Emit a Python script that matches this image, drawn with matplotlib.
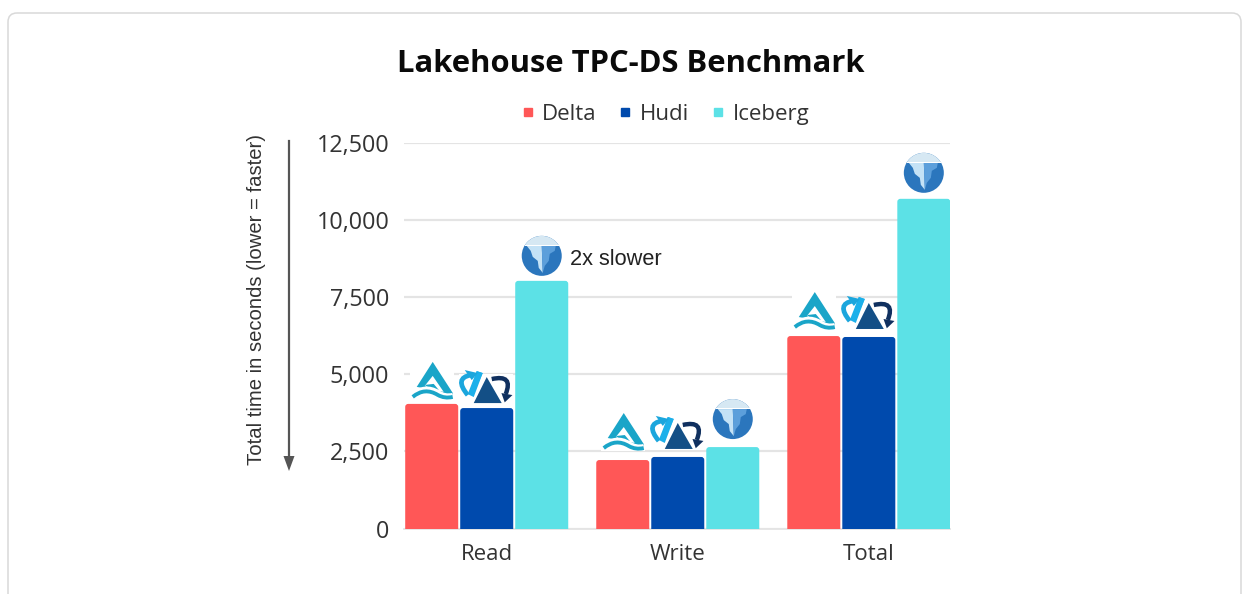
#!/usr/bin/env python3
"""Lakehouse TPC-DS benchmark bars with small table-format badges on top."""

from __future__ import annotations

import matplotlib

matplotlib.use("Agg")
import matplotlib.pyplot as plt
from matplotlib.lines import Line2D
from matplotlib.patches import Circle, FancyBboxPatch, Polygon, Rectangle, PathPatch
from matplotlib.path import Path
from matplotlib.transforms import Affine2D

W, H = 1247, 594

categories = ["Read", "Write", "Total"]
series_names = ["Delta", "Hudi", "Iceberg"]
delta_values = [4040, 2220, 6240]
hudi_values = [3905, 2320, 6210]
iceberg_values = [8030, 2640, 10690]
y_ticks = [0, 2500, 5000, 7500, 10000, 12500]
colors = ["#ff5757", "#004aad", "#5ce1e6"]

TICK_FONT = "Open Sans"
ARIAL_LIKE = "Liberation Sans"


def badge_transform(ax, x, y, dy=0):
    # badge shapes are drawn in pixels, y up, origin on the bar top centre
    px, py = ax.transData.transform((x, y))
    return Affine2D().translate(px, py + dy)


def curve(ax, pts, color, lw, tr, z=6):
    codes = [Path.MOVETO] + [Path.CURVE3] * (len(pts) - 1)
    ax.add_patch(PathPatch(Path(pts, codes), fc="none", ec=color, lw=lw, transform=tr,
                           zorder=z, clip_on=False, capstyle="butt"))


def poly(ax, pts, color, tr, z=6):
    p = Polygon(pts, closed=True, fc=color, ec="none", transform=tr, zorder=z, clip_on=False)
    ax.add_patch(p)
    return p


def draw_delta(ax, x, y, dy=0):
    tr = badge_transform(ax, x, y, dy)
    teal = "#1aa5c8"
    ax.add_patch(Rectangle((-22, 4), 44, 40, fc="white", ec="none", transform=tr, zorder=3, clip_on=False))
    poly(ax, [(1, 42), (21, 11), (20, 7), (8, 11), (-3, 15), (-15, 17)], teal, tr)
    poly(ax, [(1, 28), (12, 12), (2, 14), (-7, 18)], "white", tr, z=7)
    poly(ax, [(-7, 19), (2, 20), (7, 14), (0, 14)], teal, tr, z=8)
    # white gap, then the wave along the foot
    curve(ax, [(-19, 8), (-7, 19), (6, 11), (13, 6), (21, 8)], "white", 4.4, tr, z=8)
    curve(ax, [(-19, 7), (-7, 17), (6, 9), (13, 5), (21, 7)], teal, 2.8, tr, z=9)


def draw_hudi(ax, x, y, dy=0):
    tr = badge_transform(ax, x, y, dy)
    ax.add_patch(Rectangle((-28, 4), 54, 30, fc="white", ec="none", transform=tr, zorder=3, clip_on=False))
    poly(ax, [(-10, 37), (-4, 35), (-13, 11), (-19, 14)], "#1cb0ea", tr)
    poly(ax, [(-10, 37), (-4, 35), (-8, 26), (-14, 25)], "#1cb0ea", tr)
    poly(ax, [(0, 31), (-13, 5), (15, 5)], "#134f86", tr, z=7)
    curve(ax, [(-19, 13), (-33, 30), (-16, 33)], "#1ba6dd", 3.4, tr)
    poly(ax, [(-22, 38), (-9, 35), (-15, 28)], "#1ba6dd", tr)
    curve(ax, [(5, 29), (27, 34), (19, 14)], "#10305f", 3.2, tr)
    poly(ax, [(14.7, 15), (25.7, 13), (18, 5.7)], "#10305f", tr)


def draw_iceberg(ax, x, y, dy=0):
    tr = badge_transform(ax, x, y, dy)
    disc = Circle((0, 25), 20, fc="#2b76bd", ec="none", transform=tr, zorder=6, clip_on=False)
    ax.add_patch(disc)
    cap = Rectangle((-22, 36), 44, 12, fc="#d6e8f3", ec="none", transform=tr, zorder=7)
    ax.add_patch(cap)
    cap.set_clip_path(disc)
    poly(ax, [(-15, 35), (0, 35), (1, 8), (-3, 13), (-4, 20), (-9, 24), (-11, 30)], "#c4e2f6", tr, z=8)
    poly(ax, [(0, 35), (14, 35), (13, 30), (8, 27), (7, 20), (3, 15), (1, 8)], "#5c9fdb", tr, z=8)
    poly(ax, [(-17, 36), (17, 36), (17, 35), (-17, 35)], "white", tr, z=9)


def main() -> None:
    fig = plt.figure(figsize=(W / 100, H / 100), dpi=100, facecolor="white")
    canvas = Affine2D().scale(1, -1).translate(0, H)

    # card frame, runs off the bottom edge
    fig.add_artist(FancyBboxPatch((8, 13), 1233, 640, boxstyle="round,pad=0,rounding_size=9",
                                  fc="white", ec="#d9d9d9", lw=1.1, transform=canvas, zorder=-1))

    ax = fig.add_axes([404 / W, 1 - 528.5 / H, 546 / W, 385.5 / H])
    ax.patch.set_alpha(0)
    ax.set_xlim(-0.433, 2.425)
    ax.set_ylim(0, 12500)

    step = 55 / 191
    width = 53 / 191
    y_per_x = (12500 / 385.5) * 191
    radius = 3 / 191
    all_values = [delta_values, hudi_values, iceberg_values]
    for i, values in enumerate(all_values):
        xs = [g + (i - 1) * step for g in range(len(categories))]
        bars = ax.bar(xs, values, width=width, color=colors[i], zorder=4)
        for rect in list(bars):
            # swap square bars for rounded tops, bottom hidden under the axis
            under = 300
            ax.add_patch(FancyBboxPatch((rect.get_x(), -under), rect.get_width(), rect.get_height() + under,
                                        boxstyle=f"round,pad=0,rounding_size={radius}",
                                        mutation_aspect=y_per_x, fc=colors[i], ec="none", zorder=4))
            rect.set_visible(False)

    ax.set_yticks(y_ticks)
    ax.set_yticklabels([f"{v:,}" for v in y_ticks], fontfamily=TICK_FONT, fontsize=16.8, color="#333333")
    ax.set_xticks(range(len(categories)))
    ax.set_xticklabels(categories, fontfamily=TICK_FONT, fontsize=16, color="#333333")
    ax.tick_params(axis="both", length=0)
    ax.tick_params(axis="y", pad=10.5)
    ax.tick_params(axis="x", pad=11.5)
    ax.grid(axis="y", color="#e4e4e4", lw=1.6, zorder=0)
    ax.set_axisbelow(True)
    for side in ["top", "right", "left"]:
        ax.spines[side].set_visible(False)
    ax.spines["bottom"].set_color("#e4e4e4")
    ax.spines["bottom"].set_linewidth(1.3)

    fig.canvas.draw()
    offs = [-step, 0, step]
    draw_delta(ax, 0 + offs[0], delta_values[0])
    draw_delta(ax, 1 + offs[0], delta_values[1], dy=5)
    draw_delta(ax, 2 + offs[0], delta_values[2], dy=2)
    draw_hudi(ax, 0, hudi_values[0])
    draw_hudi(ax, 1, hudi_values[1], dy=3)
    draw_hudi(ax, 2, hudi_values[2], dy=3)
    draw_iceberg(ax, 0 + offs[2], iceberg_values[0])
    draw_iceberg(ax, 1 + offs[2], iceberg_values[1], dy=3)
    draw_iceberg(ax, 2 + offs[2], iceberg_values[2], dy=1)

    fig.text(631, 64, "Lakehouse TPC-DS Benchmark", transform=canvas, ha="center", va="center",
             fontfamily="Open Sans", fontweight="bold", fontsize=22.3, color="#0a0a0a")
    fig.text(570, 259.5, "2x slower", transform=canvas, ha="left", va="center",
             fontfamily=ARIAL_LIKE, fontsize=15.7, color="#222222")
    fig.text(257, 299.5, "Total time in seconds (lower = faster)", transform=canvas, rotation=90,
             ha="center", va="center", fontfamily=ARIAL_LIKE, fontsize=14.6, color="#333333")

    # direction arrow next to the axis title
    fig.add_artist(Line2D([289, 289], [141, 458], color="#555555", lw=1.6, transform=canvas))
    fig.add_artist(Polygon([(283.5, 456), (294.5, 456), (289, 471)], closed=True, fc="#555555", ec="none",
                           transform=canvas))

    handles = [Line2D([], [], marker="s", ls="none", color=c, markersize=6.2) for c in colors]
    fig.legend(handles, series_names, loc="center", bbox_to_anchor=(664.5 / W, 1 - 114.5 / H), ncols=3,
               frameon=False, prop={"family": TICK_FONT, "size": 16}, labelcolor="#333333",
               handlelength=0.7, handletextpad=0.3, columnspacing=0.95)

    fig.savefig("out.png", dpi=100)


if __name__ == "__main__":
    main()
